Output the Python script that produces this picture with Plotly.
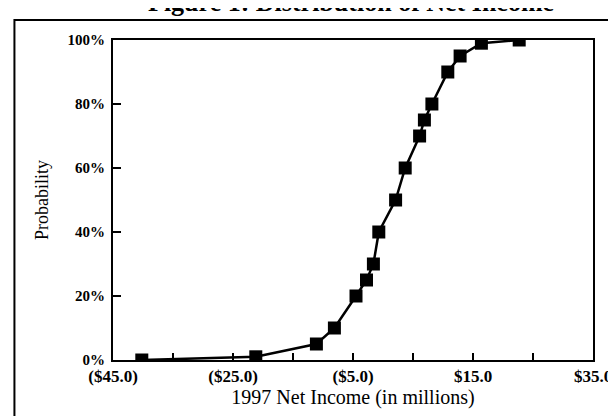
import plotly.graph_objects as go

# Data
net_income = [-40.2, -21.2, -11.1, -8.1, -4.5, -2.75, -1.6, -0.7, 2.1, 3.7, 6.1, 6.9, 8.15, 10.8, 12.85, 16.4, 22.7]
probability = [0, 1, 5, 10, 20, 25, 30, 40, 50, 60, 70, 75, 80, 90, 95, 99, 100]

x_tick_vals = [-45, -35, -25, -15, -5, 5, 15, 25, 35]
x_tick_text = ["($45.0)", "", "($25.0)", "", "($5.0)", "", "$15.0", "", "$35.0"]
y_tick_vals = [0, 20, 40, 60, 80, 100]
y_tick_text = ["0%", "20%", "40%", "60%", "80%", "100%"]

title_text = "Figure 1: Distribution of Net Income"
x_title = "1997 Net Income (in millions)"
y_title = "Probability"

W, H = 616, 416
L, R, T, B = 105, 24, 32, 64
pw, ph = W - L - R, H - T - B

def px_x(p):
    return (p - L) / pw

def px_y(p):
    return 1 + (T - p) / ph

serif = "Liberation Serif"

fig = go.Figure()
fig.add_trace(go.Scatter(
    x=net_income, y=probability, mode="lines+markers",
    line=dict(color="black", width=2.5),
    marker=dict(symbol="square", size=13, color="black"),
    showlegend=False,
))

fig.update_layout(
    width=W, height=H,
    margin=dict(l=L, r=R, t=T, b=B),
    paper_bgcolor="white", plot_bgcolor="white",
    font=dict(family=serif, color="black"),
    xaxis=dict(
        range=[-45, 35], tickvals=x_tick_vals, ticktext=x_tick_text,
        ticks="inside", ticklen=7, tickwidth=1.5, tickcolor="black",
        showline=True, linecolor="black", linewidth=2, mirror=True,
        showgrid=False, zeroline=False,
        tickfont=dict(family=serif, size=17, color="black", weight="bold"),
        title=dict(text=x_title, font=dict(family=serif, size=20), standoff=4),
    ),
    yaxis=dict(
        range=[0, 100], tickvals=y_tick_vals, ticktext=y_tick_text,
        ticks="inside", ticklen=8, tickwidth=1.5, tickcolor="black",
        showline=True, linecolor="black", linewidth=2, mirror=True,
        showgrid=False, zeroline=False, ticklabelstandoff=3,
        tickfont=dict(family=serif, size=15, color="black", weight="bold"),
        title=dict(text=y_title, font=dict(family=serif, size=18), standoff=14),
    ),
)

fig.add_annotation(
    text=title_text, xref="paper", yref="paper",
    x=px_x(346), y=px_y(11), xanchor="center", yanchor="bottom",
    showarrow=False, font=dict(family=serif, size=26, color="black", weight="bold"),
)

fig.add_shape(
    type="rect", xref="paper", yref="paper",
    x0=px_x(5), x1=px_x(630), y0=px_y(430), y1=px_y(12),
    line=dict(color="black", width=2), layer="below",
)

fig.write_html("out.html")
